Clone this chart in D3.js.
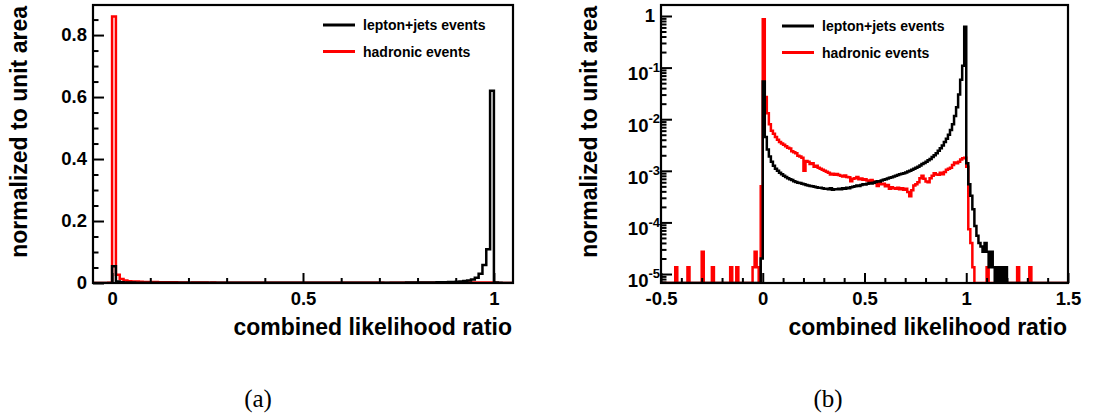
<!DOCTYPE html>
<html>
<head>
<meta charset="utf-8">
<style>
  body { margin: 0; background: #fff; }
</style>
</head>
<body>
<svg id="chart" width="1099" height="417"></svg>
<script src="https://cdnjs.cloudflare.com/ajax/libs/d3/7.8.5/d3.min.js"></script>
<script>
// histograms: 200 bins of width 0.01 from -0.5 to 1.5, normalized to unit area
const binStart = -0.5;
const binWidth = 0.01;

// lepton+jets events
const lepJets = [
  0, 0, 0, 0, 0, 0, 0, 0, 0, 0,
  0, 0, 0, 0, 0, 0, 0, 0, 0, 0,
  0, 0, 0, 0, 0, 0, 0, 0, 0, 0,
  0, 0, 0, 0, 0, 0, 0, 0, 0, 0,
  0, 0, 0, 0, 0, 0, 0, 0, 0, 2.0e-5,
  5.4e-2, 4.5e-3, 2.6e-3, 1.9e-3, 1.5e-3, 1.25e-3, 1.1e-3, 1.0e-3, 9.2e-4, 8.6e-4,
  8.0e-4, 7.6e-4, 7.2e-4, 6.9e-4, 6.6e-4, 6.3e-4, 6.1e-4, 5.9e-4, 5.8e-4, 5.6e-4,
  5.5e-4, 5.3e-4, 5.2e-4, 5.1e-4, 5.0e-4, 4.9e-4, 4.8e-4, 4.7e-4, 4.7e-4, 4.6e-4,
  4.5e-4, 4.5e-4, 4.4e-4, 4.6e-4, 4.3e-4, 4.4e-4, 4.4e-4, 4.5e-4, 4.4e-4, 4.6e-4,
  4.5e-4, 4.7e-4, 4.6e-4, 4.8e-4, 4.9e-4, 5.0e-4, 5.2e-4, 5.1e-4, 5.3e-4, 5.5e-4,
  5.4e-4, 5.6e-4, 5.8e-4, 5.7e-4, 5.9e-4, 6.1e-4, 6.3e-4, 6.2e-4, 6.5e-4, 6.7e-4,
  6.9e-4, 7.1e-4, 7.3e-4, 7.5e-4, 7.8e-4, 8.0e-4, 8.3e-4, 8.6e-4, 8.8e-4, 9.0e-4,
  9.3e-4, 9.7e-4, 1.0e-3, 1.05e-3, 1.1e-3, 1.15e-3, 1.2e-3, 1.27e-3, 1.35e-3, 1.42e-3,
  1.5e-3, 1.6e-3, 1.7e-3, 1.85e-3, 2.0e-3, 2.2e-3, 2.45e-3, 2.75e-3, 3.1e-3, 3.6e-3,
  4.2e-3, 5.0e-3, 6.2e-3, 8.0e-3, 1.15e-2, 1.7e-2, 3.0e-2, 5.8e-2, 1.09e-1, 6.2e-1,
  1.4e-3, 5.5e-4, 3.3e-4, 1.8e-4, 8.5e-5, 5.5e-5, 4.0e-5, 3.4e-5, 2.7e-5, 4.0e-5,
  2.7e-5, 1.35e-5, 2.7e-5, 1.35e-5, 0, 1.35e-5, 0, 1.35e-5, 0, 1.35e-5,
  0, 0, 0, 0, 0, 0, 0, 0, 0, 0,
  0, 0, 0, 0, 0, 0, 0, 0, 0, 0,
  0, 0, 0, 0, 0, 0, 0, 0, 0, 0
];

// hadronic events
const hadronic = [
  0, 0, 0, 0, 0, 0, 0, 1.35e-5, 0, 0,
  0, 0, 0, 1.35e-5, 0, 0, 0, 0, 0, 0,
  2.7e-5, 0, 0, 0, 0, 1.35e-5, 0, 0, 0, 0,
  0, 0, 0, 0, 1.35e-5, 0, 0, 1.35e-5, 0, 0,
  0, 0, 0, 0, 0, 1.35e-5, 2.7e-5, 1.35e-5, 0, 5.0e-4,
  8.6e-1, 2.7e-2, 1.3e-2, 8.0e-3, 6.0e-3, 5.2e-3, 4.5e-3, 4.0e-3, 3.6e-3, 3.4e-3,
  3.2e-3, 3.0e-3, 2.8e-3, 2.7e-3, 2.4e-3, 2.3e-3, 2.2e-3, 1.95e-3, 1.9e-3, 1.8e-3,
  1.0e-3, 1.55e-3, 1.5e-3, 1.35e-3, 1.4e-3, 1.2e-3, 1.25e-3, 1.15e-3, 1.1e-3, 1.05e-3,
  1.0e-3, 9.6e-4, 9.2e-4, 8.5e-4, 8.8e-4, 8.4e-4, 8.7e-4, 8.3e-4, 8.0e-4, 7.8e-4,
  8.1e-4, 7.6e-4, 7.5e-4, 6.3e-4, 7.0e-4, 7.2e-4, 7.6e-4, 6.9e-4, 7.1e-4, 6.7e-4,
  6.9e-4, 6.5e-4, 6.3e-4, 6.6e-4, 6.2e-4, 5.8e-4, 5.1e-4, 5.9e-4, 5.5e-4, 5.6e-4,
  5.0e-4, 5.3e-4, 4.5e-4, 4.8e-4, 4.6e-4, 4.5e-4, 4.7e-4, 4.4e-4, 4.6e-4, 4.3e-4,
  4.5e-4, 3.9e-4, 3.2e-4, 4.2e-4, 5.2e-4, 5.5e-4, 6.0e-4, 7.2e-4, 8.0e-4, 7.0e-4,
  6.2e-4, 6.0e-4, 7.2e-4, 8.0e-4, 9.0e-4, 8.5e-4, 8.4e-4, 9.2e-4, 8.6e-4, 9.5e-4,
  1.05e-3, 1.1e-3, 1.15e-3, 1.3e-3, 1.45e-3, 1.4e-3, 1.5e-3, 1.65e-3, 1.75e-3, 1.8e-3,
  1.2e-3, 7.4e-5, 4.0e-5, 1.35e-5, 0, 0, 0, 0, 0, 0,
  1.35e-5, 0, 0, 0, 0, 1.35e-5, 0, 0, 0, 0,
  0, 0, 0, 0, 0, 1.35e-5, 0, 0, 0, 0,
  0, 1.35e-5, 0, 0, 0, 0, 0, 0, 0, 0,
  0, 0, 0, 0, 0, 0, 0, 0, 0, 0
];

const series = [
  { name: "hadronic events", values: hadronic, color: "#ff0000" },
  { name: "lepton+jets events", values: lepJets, color: "#000000" }
];
const legendOrder = ["lepton+jets events", "hadronic events"];

const xTitle = "combined likelihood ratio";
const yTitle = "normalized to unit area";

const svg = d3.select("#chart")
    .attr("font-family", "'Liberation Sans', Arial, sans-serif")
    .attr("font-weight", "bold");

svg.append("rect").attr("width", 1099).attr("height", 417).attr("fill", "#fff");

function drawPanel(p) {
  const g = svg.append("g");

  const x = d3.scaleLinear().domain(p.xDomain).range([p.left, p.right]);
  const y = (p.log ? d3.scaleLog() : d3.scaleLinear())
      .domain(p.yDomain).range([p.bottom, p.top]);

  // clip for histogram lines
  g.append("clipPath").attr("id", p.id + "-clip")
    .append("rect")
      .attr("x", p.left).attr("y", p.top)
      .attr("width", p.right - p.left).attr("height", p.bottom - p.top);

  const line = d3.line()
      .x(d => x(d[0]))
      .y(d => d[1] > 0 ? y(d[1]) : p.bottom);

  series.forEach(s => {
    const pts = [[binStart, 0]];
    s.values.forEach((v, i) => {
      const lo = binStart + i * binWidth;
      pts.push([lo, v], [lo + binWidth, v]);
    });
    pts.push([binStart + s.values.length * binWidth, 0]);
    g.append("path")
      .attr("clip-path", `url(#${p.id}-clip)`)
      .attr("d", line(pts))
      .attr("fill", "none")
      .attr("stroke", s.color)
      .attr("stroke-width", 2.5)
      .attr("stroke-linejoin", "miter");
  });

  // x axis: ticks point inward
  g.append("g")
      .attr("transform", `translate(0,${p.bottom})`)
      .call(d3.axisBottom(x).tickValues(p.xMajor).tickSize(-10).tickPadding(9)
        .tickFormat(d => String(d)));
  g.append("g")
      .attr("transform", `translate(0,${p.bottom})`)
      .call(d3.axisBottom(x).tickValues(p.xMinor).tickSize(-5).tickFormat(""));

  // y axis
  const yMajor = g.append("g")
      .attr("transform", `translate(${p.left},0)`)
      .call(d3.axisLeft(y).tickValues(p.yMajor).tickSize(-11).tickPadding(6)
        .tickFormat(d => String(d)));
  g.append("g")
      .attr("transform", `translate(${p.left},0)`)
      .call(d3.axisLeft(y).tickValues(p.yMinor).tickSize(-5.5).tickFormat(""));

  g.selectAll(".domain").remove();
  g.selectAll(".tick line").attr("stroke", "#000").attr("stroke-width", 2);
  g.selectAll(".tick text")
      .attr("font-size", 18.5).attr("fill", "#000");
  g.selectAll("g").attr("font-family", null).attr("font-size", null);

  if (p.log) {
    // labels 1, 10^-1 ... 10^-5
    yMajor.selectAll(".tick text").each(function (d) {
      const t = d3.select(this);
      const e = Math.round(Math.log10(d));
      if (e === 0) return;
      t.text(null).attr("dy", "0.66em").attr("x", -1);
      t.append("tspan").text("10");
      t.append("tspan").attr("dy", -8.5).attr("font-size", 13).text(String(e));
    });
  }

  // frame
  g.append("rect")
      .attr("x", p.left).attr("y", p.top)
      .attr("width", p.right - p.left).attr("height", p.bottom - p.top)
      .attr("fill", "none").attr("stroke", "#000").attr("stroke-width", 2.2);

  // titles
  g.append("text")
      .attr("x", p.right - 1).attr("y", 335)
      .attr("text-anchor", "end").attr("font-size", 23)
      .text(xTitle);
  g.append("text")
      .attr("transform", `translate(${p.yTitleX},6) rotate(-90)`)
      .attr("text-anchor", "end").attr("font-size", 23)
      .text(yTitle);

  // legend
  const leg = g.append("g");
  legendOrder.forEach((name, i) => {
    const s = series.find(d => d.name === name);
    const ly = p.legend.y + i * 26.5;
    leg.append("line")
        .attr("x1", p.legend.x).attr("x2", p.legend.x + 32)
        .attr("y1", ly).attr("y2", ly)
        .attr("stroke", s.color).attr("stroke-width", 3);
    leg.append("text")
        .attr("x", p.legend.x + 40).attr("y", ly + 5)
        .attr("font-size", 14)
        .text(name);
  });

  // sub-figure label
  g.append("text")
      .attr("x", p.subX).attr("y", 407)
      .attr("text-anchor", "middle")
      .attr("font-family", "'Liberation Serif', 'DejaVu Serif', serif")
      .attr("font-weight", "normal")
      .attr("font-size", 25)
      .text(p.sub);
}

const round = v => Math.round(v * 100) / 100;

drawPanel({
  id: "a", sub: "(a)", subX: 258,
  left: 93, right: 513, top: 5, bottom: 283,
  xDomain: [-0.05, 1.05], yDomain: [0, 0.897], log: false,
  xMajor: [0, 0.5, 1],
  xMinor: d3.range(0.1, 1, 0.1).map(round).filter(v => v !== 0.5),
  yMajor: [0, 0.2, 0.4, 0.6, 0.8],
  yMinor: d3.range(0.05, 0.86, 0.05).map(round).filter(v => Math.abs(v * 5 - Math.round(v * 5)) > 1e-6),
  yTitleX: 27,
  legend: { x: 323, y: 25 }
});

const logMinor = [];
for (let e = -6; e <= 0; e++) {
  for (let k = 2; k <= 9; k++) {
    const v = k * Math.pow(10, e);
    if (v > 6.7e-6 && v < 1.63) logMinor.push(v);
  }
}

drawPanel({
  id: "b", sub: "(b)", subX: 828,
  left: 661, right: 1068, top: 5, bottom: 283,
  xDomain: [-0.5, 1.5], yDomain: [6.7e-6, 1.633], log: true,
  xMajor: [-0.5, 0, 0.5, 1, 1.5],
  xMinor: d3.range(-0.4, 1.45, 0.1).map(round).filter(v => Math.abs(v * 2 - Math.round(v * 2)) > 1e-6),
  yMajor: [1e-5, 1e-4, 1e-3, 1e-2, 1e-1, 1],
  yMinor: logMinor,
  yTitleX: 597,
  legend: { x: 782, y: 26 }
});
</script>
</body>
</html>
